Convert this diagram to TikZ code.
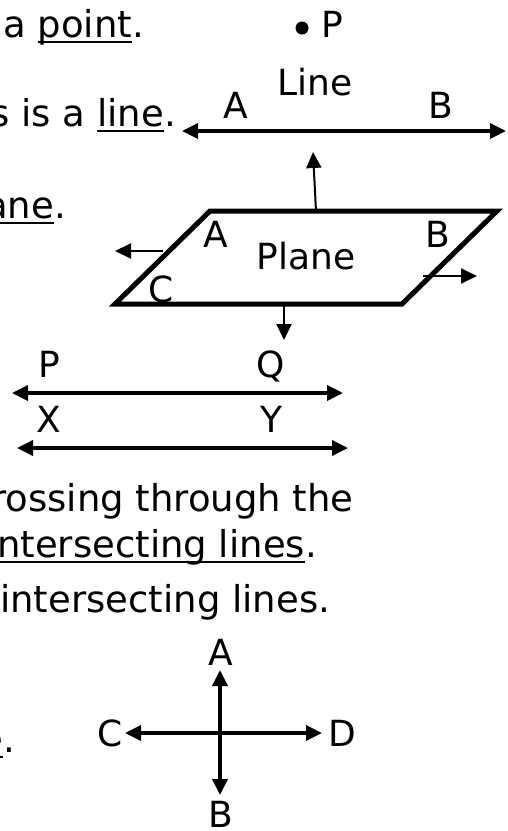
\documentclass[tikz,border=0pt]{standalone}
\usepackage{fontspec}
\setmainfont{DejaVu Sans}
\usetikzlibrary{arrows.meta,calc}
\newcommand{\ulword}[1]{\setbox0=\hbox{#1}\rlap{\vrule height -3.75pt depth 6.25pt width \wd0}\box0}

\begin{document}
\begin{tikzpicture}[x=1pt,y=-1pt,
  every node/.style={inner sep=0pt,font=\fontsize{36}{43}\selectfont},
  body/.style={font=\fontsize{37}{44}\selectfont},
  lbl/.style={anchor=base},
  twoway/.style={line width=3.5pt,{Triangle[length=16pt,width=15pt]}-{Triangle[length=16pt,width=15pt]}},
  oneway/.style={line width=2pt,-{Triangle[length=16pt,width=15pt]}}]
  \useasboundingbox (0,0) rectangle (507,831);

  % text on the left, cut off by the edge
  \node[body,anchor=base west] (t1) at (3,37) {a \ulword{point}.};
  \node[body,anchor=base east] (t2) at (176,126) {s is a \ulword{line}.};
  \node[body,anchor=base east] (t3) at (66,218) {\ulword{ane}.};
  \node[body,anchor=base west] (t4) at (-9,511) {rossing through the};
  \node[body,anchor=base west] (t5) at (-3,557) {\ulword{ntersecting lines}.};
  \node[body,anchor=base west] (t6) at (0,612) {intersecting lines.};
  \node[body,anchor=base east] (t7) at (15,752) {\ulword{e}.};

  % point
  \node[circle,fill,minimum size=13pt] (dotP) at (302,28) {};
  \node[lbl] (labP) at (332,37) {P};

  % line
  \coordinate (lnA) at (182,131);
  \coordinate (lnB) at (506,131);
  \draw[twoway] (lnA) -- (lnB);
  \node[lbl] (labLine) at (315,95) {Line};
  \node[lbl] (labA) at (236,118) {A};
  \node[lbl] (labB) at (441,118) {B};

  % plane
  \coordinate (pl1) at (210,211);
  \coordinate (pl2) at (497,211);
  \coordinate (pl3) at (402,304);
  \coordinate (pl4) at (115,304);
  \draw[line width=5pt] (pl1) -- (pl2) -- (pl3) -- (pl4) -- cycle;
  \node[lbl] (plA) at (216,247) {A};
  \node[lbl] (plB) at (438,247) {B};
  \node[lbl] (plName) at (306,269) {Plane};
  \node[lbl] (plC) at (161,302) {C};
  \coordinate (upS) at (316,211);
  \coordinate (upE) at (313,152);
  \draw[oneway] (upS) -- (upE);
  \coordinate (lfS) at (163,251);
  \coordinate (lfE) at (115,251);
  \draw[oneway] (lfS) -- (lfE);
  \coordinate (rtS) at (423,276);
  \coordinate (rtE) at (477,276);
  \draw[oneway] (rtS) -- (rtE);
  \coordinate (dnS) at (284,304);
  \coordinate (dnE) at (284,340);
  \draw[oneway] (dnS) -- (dnE);

  % parallel lines
  \coordinate (pqL) at (12,393);
  \coordinate (pqR) at (343,393);
  \draw[twoway] (pqL) -- (pqR);
  \node[lbl] (labPP) at (49,377) {P};
  \node[lbl] (labQ) at (271,377) {Q};
  \coordinate (xyL) at (17,448);
  \coordinate (xyR) at (348,448);
  \draw[twoway] (xyL) -- (xyR);
  \node[lbl] (labX) at (49,432) {X};
  \node[lbl] (labY) at (271,432) {Y};

  % intersecting lines
  \node[lbl] (crA) at (221,665) {A};
  \node[lbl] (crB) at (221,827) {B};
  \node[lbl] (crC) at (110,746) {C};
  \node[lbl] (crD) at (342,746) {D};
  \coordinate (vTop) at (220,670);
  \coordinate (vBot) at (220,795);
  \coordinate (hL) at (125,733);
  \coordinate (hR) at (322,733);
  \draw[twoway] (vBot) -- (vTop);
  \draw[twoway] (hL) -- (hR);
\end{tikzpicture}
\end{document}
